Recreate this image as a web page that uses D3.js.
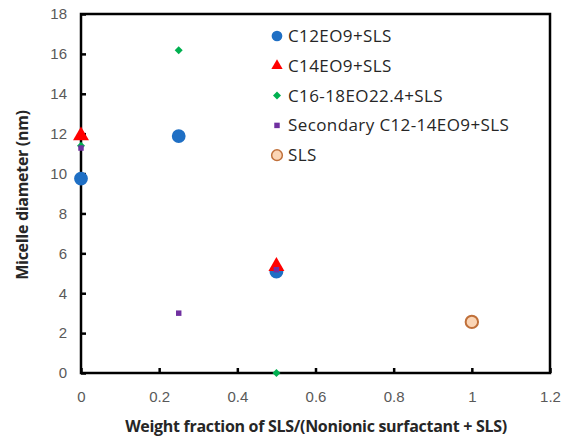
<!DOCTYPE html>
<head>
  <meta charset="utf-8">
  <script src="https://d3js.org/d3.v7.min.js"></script>
  <style>
    body { margin: 0; background: #fff; }
    svg { width: 571px; height: 436px; font-family: "Open Sans", Lato, sans-serif; }
  </style>
</head>
<body>
  <svg></svg>
  <script>
    // series data [weight fraction, diameter]
    const c12eo9 = [[0, 9.75], [0.25, 11.88], [0.5, 5.08]];
    const c14eo9 = [[0, 11.9], [0.5, 5.35]];
    const c1618eo = [[0, 11.4], [0.25, 16.18], [0.5, 0]];
    const secC1214 = [[0, 11.28], [0.25, 3.0], [0.5, 5.18]];
    const sls = [[1, 2.56]];

    const seriesNames = ['C12EO9+SLS', 'C14EO9+SLS', 'C16-18EO22.4+SLS', 'Secondary C12-14EO9+SLS', 'SLS'];
    const xTicks = [0, 0.2, 0.4, 0.6, 0.8, 1, 1.2];
    const yTicks = [0, 2, 4, 6, 8, 10, 12, 14, 16, 18];

    const svg = d3.select('svg');
    const m = { left: 81, top: 14, right: 550, bottom: 373 };

    const x = d3.scaleLinear().domain([0, 1.2]).range([m.left, m.right]);
    const y = d3.scaleLinear().domain([0, 18]).range([m.bottom, m.top]);

    // frame
    svg.append('rect')
      .attr('x', m.left).attr('y', m.top)
      .attr('width', m.right - m.left).attr('height', m.bottom - m.top)
      .attr('fill', 'none').attr('stroke', '#000').attr('stroke-width', 2.5);

    // axes with inward ticks
    const xAxis = svg.append('g')
      .attr('transform', `translate(0,${m.bottom})`)
      .call(d3.axisBottom(x).tickValues(xTicks).tickSize(-5).tickPadding(18).tickFormat(d3.format('')));
    const yAxis = svg.append('g')
      .attr('transform', `translate(${m.left},0)`)
      .call(d3.axisLeft(y).tickValues(yTicks).tickSize(-5).tickPadding(14));
    [xAxis, yAxis].forEach(a => {
      a.select('.domain').remove();
      a.selectAll('line').attr('stroke', '#000').attr('stroke-width', 2.5);
      a.selectAll('text').attr('fill', '#595959').style('font-size', '15px');
    });

    // axis titles
    svg.append('text')
      .attr('x', 316).attr('y', 432)
      .attr('text-anchor', 'middle')
      .attr('fill', '#262626').style('font-size', '16px').style('font-weight', 'bold')
      .style('letter-spacing', '-0.3px')
      .text('Weight fraction of SLS/(Nonionic surfactant + SLS)');
    svg.append('text')
      .attr('transform', `translate(28,195) rotate(-90)`)
      .attr('text-anchor', 'middle')
      .attr('fill', '#262626').style('font-size', '16px').style('font-weight', 'bold')
      .style('letter-spacing', '-0.3px')
      .text('Micelle diameter (nm)');

    // marker shapes
    const styles = [
      { data: c12eo9, sym: d3.symbolCircle, size: 150, fill: '#1F6FC4', stroke: 'none', lsize: 90, rot: 0 },
      { data: c14eo9, sym: d3.symbolTriangle, size: 110, fill: '#FF0000', stroke: 'none', lsize: 55, rot: 0 },
      { data: c1618eo, sym: d3.symbolSquare, size: 32, fill: '#00B050', stroke: 'none', lsize: 32, rot: 45 },
      { data: secC1214, sym: d3.symbolSquare, size: 30, fill: '#7030A0', stroke: 'none', lsize: 30, rot: 0 },
      { data: sls, sym: d3.symbolCircle, size: 120, fill: '#FBD5B5', stroke: '#C0703A', lsize: 90, rot: 0 }
    ];

    styles.forEach(s => {
      svg.append('g').selectAll('path')
        .data(s.data)
        .join('path')
        .attr('transform', d => `translate(${x(d[0])},${y(d[1])}) rotate(${s.rot})`)
        .attr('d', d3.symbol(s.sym, s.size))
        .attr('fill', s.fill)
        .attr('stroke', s.stroke)
        .attr('stroke-width', 2);
    });

    // legend
    const legend = svg.append('g').attr('transform', 'translate(277,36)');
    styles.forEach((s, i) => {
      const row = legend.append('g').attr('transform', `translate(0,${i * 29.8})`);
      row.append('path')
        .attr('transform', `rotate(${s.rot})`)
        .attr('d', d3.symbol(s.sym, s.lsize))
        .attr('fill', s.fill).attr('stroke', s.stroke).attr('stroke-width', 1.5);
      row.append('text')
        .attr('x', 11).attr('y', 6)
        .attr('fill', '#262626').style('font-size', '17px')
        .style('letter-spacing', '0.4px')
        .text(seriesNames[i]);
    });
  </script>
</body>
